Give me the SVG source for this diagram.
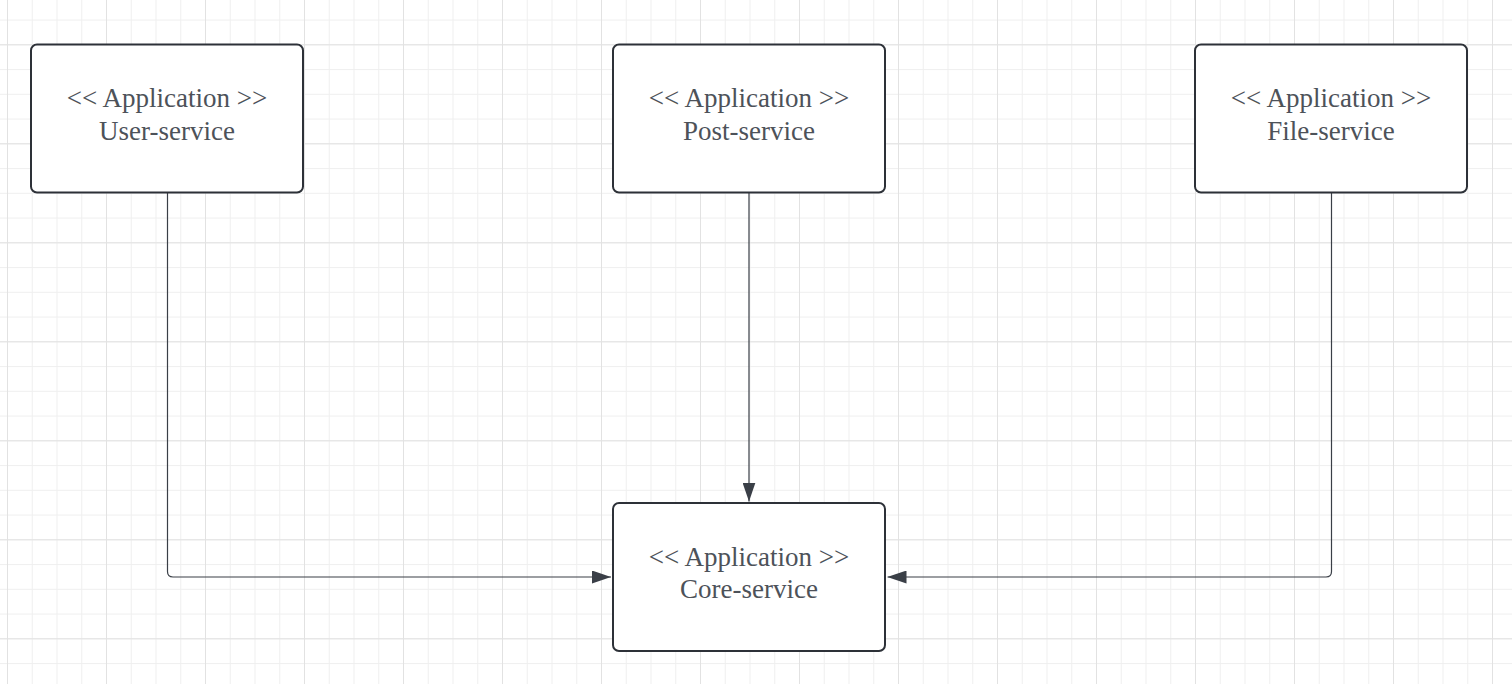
<svg xmlns="http://www.w3.org/2000/svg" width="1512" height="684" viewBox="0 0 1512 684">
  <defs>
    <pattern id="minor" x="7" y="-5.2" width="24.75" height="24.75" patternUnits="userSpaceOnUse">
      <path d="M0.5 0 V24.75 M0 0.5 H24.75" fill="none" stroke="#efefef" stroke-width="1"/>
    </pattern>
    <pattern id="major" x="7" y="44.3" width="99" height="99" patternUnits="userSpaceOnUse">
      <path d="M0.5 0 V99 M0 0.5 H99" fill="none" stroke="#e2e2e2" stroke-width="1"/>
    </pattern>
    <marker id="arrow" viewBox="0 0 19 13" refX="19" refY="6.5" markerWidth="19" markerHeight="13" markerUnits="userSpaceOnUse" orient="auto">
      <path d="M0 0 L19 6.5 L0 13 Z" fill="#3a3f47"/>
    </marker>
  </defs>
  <style>
    .box { fill: #ffffff; stroke: #2d3138; stroke-width: 2; }
    .label { font-family: "Liberation Serif", "Times New Roman", serif; font-size: 27px; fill: #4d5259; text-anchor: middle; }
    .conn { fill: none; stroke: #3a3f47; stroke-width: 1.2; }
  </style>
  <rect width="1512" height="684" fill="#ffffff"/>
  <rect width="1512" height="684" fill="url(#minor)"/>
  <rect width="1512" height="684" fill="url(#major)"/>

  <g id="connectors">
    <path class="conn" d="M167.5 193 V571.5 Q167.5 577 173 577 H611" marker-end="url(#arrow)"/>
    <path class="conn" d="M749 193 V501.5" marker-end="url(#arrow)"/>
    <path class="conn" d="M1331.5 193 V571.5 Q1331.5 577 1326 577 H887.5" marker-end="url(#arrow)"/>
  </g>

  <g id="user-service">
    <rect class="box" x="31" y="44.5" width="272" height="148" rx="6"/>
    <text class="label" x="167" y="107">&lt;&lt; Application &gt;&gt;</text>
    <text class="label" x="167" y="139.5">User-service</text>
  </g>
  <g id="post-service">
    <rect class="box" x="613" y="44.5" width="272" height="148" rx="6"/>
    <text class="label" x="749" y="107">&lt;&lt; Application &gt;&gt;</text>
    <text class="label" x="749" y="139.5">Post-service</text>
  </g>
  <g id="file-service">
    <rect class="box" x="1195" y="44.5" width="272" height="148" rx="6"/>
    <text class="label" x="1331" y="107">&lt;&lt; Application &gt;&gt;</text>
    <text class="label" x="1331" y="139.5">File-service</text>
  </g>
  <g id="core-service">
    <rect class="box" x="613" y="503" width="272" height="148" rx="6"/>
    <text class="label" x="749" y="565.5">&lt;&lt; Application &gt;&gt;</text>
    <text class="label" x="749" y="598">Core-service</text>
  </g>
</svg>
